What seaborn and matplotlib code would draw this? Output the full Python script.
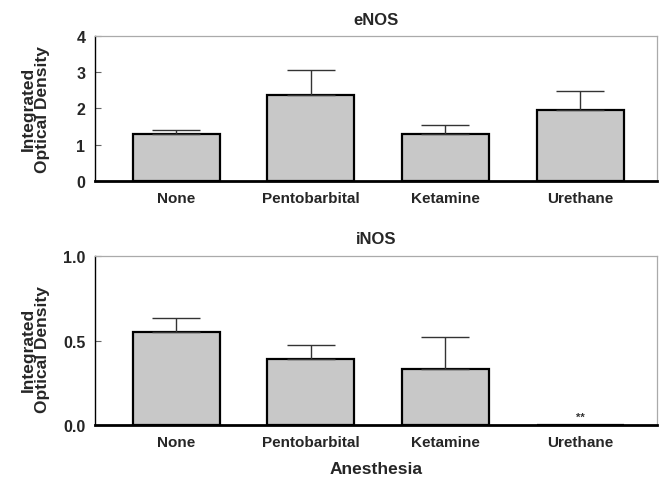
import matplotlib
matplotlib.use("Agg")
import matplotlib.pyplot as plt
import seaborn as sns
import pandas as pd
import numpy as np

categories = ["None", "Pentobarbital", "Ketamine", "Urethane"]
enos_values = [1.30, 2.38, 1.28, 1.97]
enos_upper = [1.40, 3.05, 1.55, 2.47]
inos_values = [0.55, 0.39, 0.33, 0.0]
inos_upper = [0.63, 0.475, 0.52, 0.0]
enos_ticks = [0, 1, 2, 3, 4]
inos_ticks = [0.0, 0.5, 1.0]
inos_tick_labels = ["0.0", "0.5", "1.0"]

sns.set_style("white")
plt.rcParams['font.family'] = ['Liberation Sans', 'DejaVu Sans']
plt.rcParams['font.weight'] = 'bold'

fig = plt.figure(figsize=(6.61, 4.81), dpi=100)
ax1 = fig.add_axes([0.144, 0.622, 0.850, 0.301])
ax2 = fig.add_axes([0.144, 0.114, 0.850, 0.352])

def panel(ax, vals, upper, title, ylim, ticks, ticklabels, label_y):
    df = pd.DataFrame({"cat": categories, "val": vals})
    sns.barplot(data=df, x="cat", y="val", ax=ax, color="#c8c8c8",
                edgecolor="black", linewidth=1.6, width=0.646, saturation=1)
    x = np.arange(len(categories))
    errs = np.array(upper) - np.array(vals)
    mask = errs > 0
    ax.errorbar(x[mask], np.array(vals)[mask],
                yerr=[np.zeros(mask.sum()), errs[mask]],
                fmt="none", ecolor="#333333", elinewidth=1.0,
                capsize=17, capthick=1.0, zorder=1)
    ax.set_xlim(-0.60, 3.57)
    ax.set_ylim(*ylim)
    ax.set_yticks(ticks)
    ax.set_yticklabels(ticklabels, fontsize=11.5, fontweight="bold")
    ax.set_xticks(x)
    ax.set_xticklabels(categories, fontsize=11, fontweight="bold")
    ax.tick_params(axis="x", length=0, pad=7)
    ax.tick_params(axis="y", length=4, width=0.8, direction="in", left=True,
                   pad=7, color="#666666")
    ax.set_title(title, fontsize=12, fontweight="bold", pad=9)
    ax.set_ylabel("Integrated\nOptical Density", fontsize=12.5, fontweight="bold",
                  linespacing=0.95)
    ax.yaxis.set_label_coords(-0.080, label_y)
    ax.set_xlabel("")
    for s in ["top", "right"]:
        ax.spines[s].set_color("#aaaaaa")
        ax.spines[s].set_linewidth(0.9)
    ax.spines["left"].set_color("black")
    ax.spines["left"].set_linewidth(1.0)
    ax.spines["bottom"].set_color("black")
    ax.spines["bottom"].set_linewidth(2.0)

panel(ax1, enos_values, enos_upper, "eNOS", (0, 4), enos_ticks,
      [str(t) for t in enos_ticks], 0.5)
panel(ax2, inos_values, inos_upper, "iNOS", (0, 1.0), inos_ticks,
      inos_tick_labels, 0.45)
ax2.text(3, 0.02, "**", ha="center", va="bottom", fontsize=8, fontweight="bold", color="#333333")
ax2.set_xlabel("Anesthesia", fontsize=12.5, fontweight="bold", labelpad=9)

fig.savefig("out.png", dpi=100)
